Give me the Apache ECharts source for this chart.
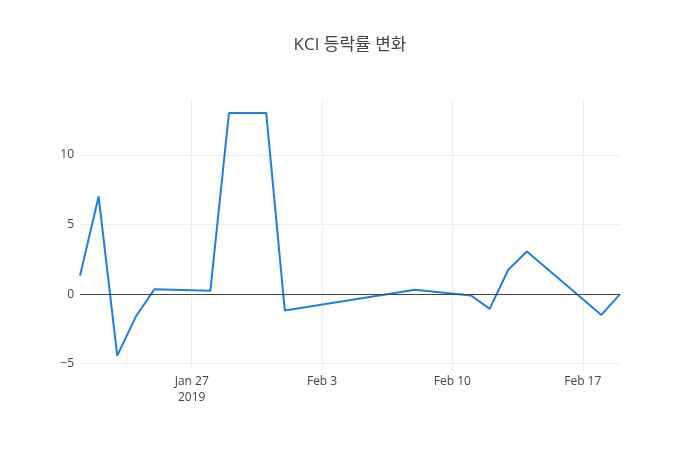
<!DOCTYPE html>
<html>
<head>
<meta charset="utf-8">
<script src="https://cdn.jsdelivr.net/npm/echarts@6/dist/echarts.min.js"></script>
<style>
  html, body { margin: 0; padding: 0; background: #fff; }
  #main { width: 700px; height: 450px; }
</style>
</head>
<body>
<div id="main"></div>
<script>
// KCI daily change rate (%), 2019
var dates = [
  "2019-01-21", "2019-01-22", "2019-01-23", "2019-01-24", "2019-01-25",
  "2019-01-28", "2019-01-29", "2019-01-30", "2019-01-31", "2019-02-01",
  "2019-02-08", "2019-02-11", "2019-02-12", "2019-02-13", "2019-02-14",
  "2019-02-18", "2019-02-19"
];
var changes = [
  1.32, 7.02, -4.42, -1.61, 0.36,
  0.24, 13.02, 13.02, 13.02, -1.18,
  0.31, -0.1, -1.06, 1.75, 3.07,
  -1.49, 0.0
];
var xTickDates = ["2019-01-27", "2019-02-03", "2019-02-10", "2019-02-17"];
var yTicks = [-5, 0, 5, 10];

var monthNames = ["Jan", "Feb", "Mar", "Apr", "May", "Jun", "Jul", "Aug", "Sep", "Oct", "Nov", "Dec"];

function toTime(s) {
  var p = s.split("-");
  return Date.UTC(+p[0], +p[1] - 1, +p[2]);
}

var seriesData = dates.map(function (d, i) {
  return [toTime(d), changes[i]];
});
var xTicks = xTickDates.map(toTime);

var myChart = echarts.init(document.getElementById("main"));

var option = {
  animation: false,
  textStyle: { fontFamily: "'Open Sans', 'Noto Sans CJK KR', sans-serif" },
  title: {
    text: "KCI 등락률 변화",
    left: "center",
    top: 32,
    textStyle: {
      fontFamily: "'Open Sans', 'Noto Sans CJK KR', sans-serif",
      fontSize: 17,
      fontWeight: "normal",
      color: "#444"
    }
  },
  grid: { left: 80, right: 80, top: 100, bottom: 80 },
  xAxis: {
    type: "value",
    min: toTime(dates[0]),
    max: toTime(dates[dates.length - 1]),
    axisLine: { show: false },
    axisTick: { show: false, customValues: xTicks },
    splitLine: { show: true, lineStyle: { color: "#eee", width: 1 } },
    axisLabel: {
      customValues: xTicks,
      color: "#444",
      fontSize: 12,
      margin: 4,
      lineHeight: 16,
      formatter: function (v) {
        var d = new Date(v);
        var s = monthNames[d.getUTCMonth()] + " " + d.getUTCDate();
        if (v === xTicks[0]) s += "\n" + d.getUTCFullYear();
        return s;
      }
    }
  },
  yAxis: {
    type: "value",
    min: -5.45,
    max: 13.95,
    axisLine: { show: false },
    axisTick: { show: false, customValues: yTicks },
    splitLine: { show: true, lineStyle: { color: "#eee", width: 1 } },
    axisLabel: {
      customValues: yTicks,
      color: "#444",
      fontSize: 12,
      margin: 6,
      formatter: function (v) {
        return v < 0 ? "\u2212" + Math.abs(v) : String(v);
      }
    }
  },
  series: [
    {
      name: "KCI",
      type: "line",
      data: seriesData,
      showSymbol: false,
      lineStyle: { color: "#1f7de6", width: 2 },
      itemStyle: { color: "#1f7de6" },
      markLine: {
        silent: true,
        symbol: "none",
        label: { show: false },
        lineStyle: { color: "#444", width: 1, type: "solid" },
        data: [{ yAxis: 0 }]
      },
      z: 3
    }
  ]
};

myChart.setOption(option);
</script>
</body>
</html>
